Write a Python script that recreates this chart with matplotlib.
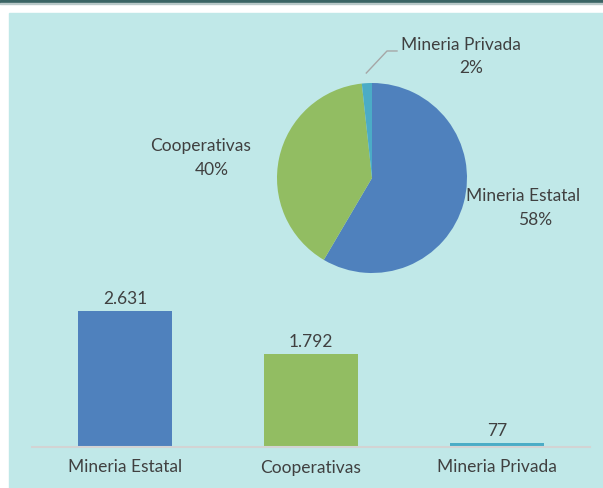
import matplotlib
matplotlib.use("Agg")
import matplotlib.pyplot as plt
from matplotlib.patches import Rectangle

categorias = ["Mineria Estatal", "Cooperativas", "Mineria Privada"]
valores = [2631, 1792, 77]
colores = ["#4F81BD", "#92BD62", "#4BACC6"]

plt.rcParams['font.family'] = ['Lato', 'DejaVu Sans']
gris = "#404040"
fondo = "#C0E8E8"
fs = 12.5

W, H = 603, 488
fig = plt.figure(figsize=(W / 100, H / 100), dpi=100, facecolor="white")
fig.patches.append(Rectangle((9 / W, 0), 594 / W, 475 / H, transform=fig.transFigure,
                             color=fondo, zorder=-10))
fig.patches.append(Rectangle((0, 485 / H), 1, 3 / H, transform=fig.transFigure,
                             color="#3A6464", zorder=-10))
fig.patches.append(Rectangle((0, 484 / H), 1, 1 / H, transform=fig.transFigure,
                             color="#B8C8C8", zorder=-10))

# barras
ax = fig.add_axes([32 / W, 41 / H, 558 / W, 157 / H])
ax.set_facecolor("none")
x = range(len(categorias))
barras = ax.bar(x, valores, width=0.505, color=colores)
ax.set_xlim(-0.5, 2.5)
ax.set_ylim(0, 3040)
for s in ["top", "right", "left"]:
    ax.spines[s].set_visible(False)
ax.spines["bottom"].set_color("#D3D3D3")
ax.spines["bottom"].set_linewidth(1.5)
ax.set_yticks([])
ax.set_xticks(list(x))
ax.set_xticklabels(categorias, fontsize=fs, color=gris)
ax.tick_params(axis="x", length=0, pad=9)
for b, v in zip(barras, valores):
    ax.annotate(f"{v:,}".replace(",", "."), (b.get_x() + b.get_width() / 2, v),
                xytext=(0, 3), textcoords="offset points", ha="center", va="bottom",
                fontsize=fs, color=gris)

# torta
ax2 = fig.add_axes([277 / W, 215 / H, 190 / W, 190 / H])
ax2.pie(valores, colors=colores, startangle=90, counterclock=False, radius=1)
ax2.set_xlim(-1, 1)
ax2.set_ylim(-1, 1)
ax2.set_aspect("equal")
ax2.axis("off")

total = sum(valores)
pct = [f"{round(v / total * 100)}%" for v in valores]
pos_nombre = [(1.59, -0.19), (-1.80, 0.34), (0.94, 1.40)]
pos_pct = [(1.72, -0.44), (-1.69, 0.08), (1.04, 1.16)]
for nombre, p, pn, pp in zip(categorias, pct, pos_nombre, pos_pct):
    ax2.text(pn[0], pn[1], nombre, ha="center", va="center", fontsize=fs, color=gris)
    ax2.text(pp[0], pp[1], p, ha="center", va="center", fontsize=fs, color=gris)
ax2.plot([-0.06, 0.158, 0.263], [1.105, 1.337, 1.337], color="#A6A6A6", lw=1, clip_on=False)

fig.savefig("out.png", dpi=100, facecolor="white")
